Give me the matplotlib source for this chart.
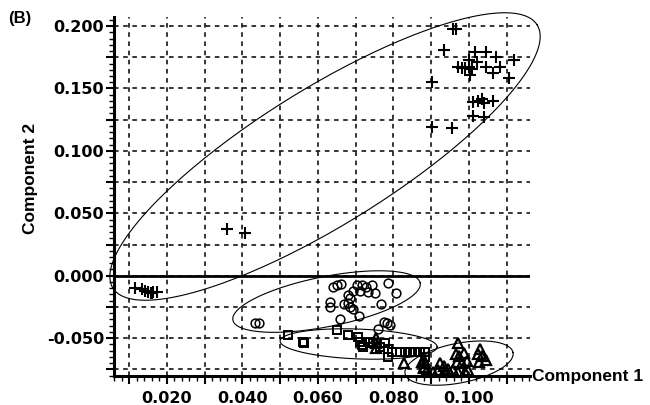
import numpy as np
import matplotlib
matplotlib.use("Agg")
import matplotlib.pyplot as plt
from matplotlib.ticker import MultipleLocator, FuncFormatter

# ---- data (Component 1, Component 2) ----
plus_x = [0.0958, 0.0966, 0.0934, 0.1015, 0.1046, 0.1072, 0.1120, 0.1001, 0.1021,
          0.0972, 0.0981, 0.0990, 0.1001, 0.1008, 0.1046, 0.1083, 0.1065, 0.1003,
          0.1107, 0.1012, 0.1025, 0.1034, 0.1039, 0.1063, 0.1012, 0.1039, 0.0902,
          0.0902, 0.0955, 0.0359, 0.0407,
          0.0116, 0.0134, 0.0142, 0.0151, 0.0157, 0.0164, 0.0173, 0.0160]
plus_y = [0.1974, 0.1974, 0.1809, 0.1795, 0.1795, 0.1750, 0.1728, 0.1728, 0.1715,
          0.1670, 0.1662, 0.1662, 0.1675, 0.1654, 0.1675, 0.1670, 0.1627, 0.1608,
          0.1582, 0.1394, 0.1402, 0.1413, 0.1381, 0.1402, 0.1280, 0.1274, 0.1554,
          0.1194, 0.1181, 0.0372, 0.0340,
          -0.0101, -0.0109, -0.0120, -0.0128, -0.0141, -0.0130, -0.0128, -0.0135]

circ_x = [0.0640, 0.0650, 0.0662, 0.0703, 0.0716, 0.0728, 0.0743, 0.0712, 0.0734,
          0.0752, 0.0787, 0.0807, 0.0694, 0.0681, 0.0685, 0.0631, 0.0631, 0.0668,
          0.0681, 0.0685, 0.0694, 0.0767, 0.0710, 0.0659, 0.0774, 0.0784, 0.0791,
          0.0434, 0.0443, 0.0760]
circ_y = [-0.0093, -0.0075, -0.0067, -0.0075, -0.0075, -0.0093, -0.0075, -0.0120, -0.0128,
          -0.0136, -0.0056, -0.0141, -0.0120, -0.0155, -0.0181, -0.0208, -0.0248, -0.0227,
          -0.0221, -0.0248, -0.0269, -0.0229, -0.0323, -0.0349, -0.0369, -0.0381, -0.0395,
          -0.0381, -0.0377, -0.0429]

sq_x = [0.0522, 0.0560, 0.0563, 0.0650, 0.0681, 0.0707, 0.0712, 0.0716, 0.0738,
        0.0747, 0.0778, 0.0787, 0.0787, 0.0818, 0.0831, 0.0844, 0.0858, 0.0871,
        0.0884, 0.0884, 0.0720, 0.0765, 0.0797]
sq_y = [-0.0475, -0.0535, -0.0540, -0.0435, -0.0475, -0.0489, -0.0529, -0.0555, -0.0529,
        -0.0542, -0.0542, -0.0590, -0.0654, -0.0609, -0.0609, -0.0609, -0.0609, -0.0609,
        -0.0609, -0.0649, -0.0571, -0.0571, -0.0611]

tri_x = [0.0972, 0.0966, 0.0975, 0.0986, 0.1030, 0.1025, 0.1034, 0.1046, 0.1028,
         0.0968, 0.0981, 0.0995, 0.0999, 0.0990, 0.0924, 0.0933, 0.0880, 0.0889,
         0.0906, 0.0919, 0.0933, 0.0946, 0.0959, 0.0972, 0.0827, 0.0875, 0.0884,
         0.0754, 0.0754, 0.0754, 0.0880, 0.0880]
tri_y = [-0.0542, -0.0627, -0.0643, -0.0622, -0.0590, -0.0627, -0.0643, -0.0675, -0.0689,
         -0.0689, -0.0697, -0.0681, -0.0756, -0.0769, -0.0702, -0.0724, -0.0742, -0.0756,
         -0.0769, -0.0756, -0.0769, -0.0750, -0.0756, -0.0769, -0.0697, -0.0689, -0.0702,
         -0.0502, -0.0542, -0.0582, -0.0675, -0.0729]

# ellipses: centre, major semi-axis vector (data units), minor/major ratio (display)
ell_centers = [(0.0619, 0.0955), (0.0623, -0.0207), (0.0708, -0.0547), (0.0974, -0.0700)]
ell_tips = [(0.0562, 0.1054), (0.0248, 0.0149), (0.0208, -0.0024), (0.0143, 0.0085)]
ell_ratios = [0.273, 0.262, 0.19, 0.36]

xlim = (0.006, 0.1162)
ylim = (-0.0801, 0.2075)
x_labels_every = 0.02
y_labels_every = 0.05

FONT = ['Liberation Sans', 'DejaVu Sans']
plt.rcParams['font.family'] = FONT

fig = plt.figure(figsize=(6.5, 4.05), dpi=100)
ax = fig.add_axes([114 / 650, 1 - 375.7 / 405, (530 - 114) / 650, (375.7 - 16.7) / 405])
ax.set_xlim(*xlim)
ax.set_ylim(*ylim)

for s in ('top', 'right'):
    ax.spines[s].set_visible(False)
for s in ('left', 'bottom'):
    ax.spines[s].set_linewidth(2.2)

ax.xaxis.set_major_locator(MultipleLocator(0.01))
ax.xaxis.set_minor_locator(MultipleLocator(0.002))
ax.yaxis.set_major_locator(MultipleLocator(0.025))
ax.yaxis.set_minor_locator(MultipleLocator(0.005))


def fmt_every(step):
    def f(v, pos):
        k = v / step
        if abs(k - round(k)) < 1e-6:
            return f"{v:.3f}".replace("-0.000", "0.000")
        return ""
    return FuncFormatter(f)


ax.xaxis.set_major_formatter(fmt_every(x_labels_every))
ax.yaxis.set_major_formatter(fmt_every(y_labels_every))
ax.tick_params(axis='both', which='major', direction='out', length=6, width=1.5,
               labelsize=11.5, color='black')
ax.tick_params(axis='both', which='minor', direction='out', length=3.5, width=1.0)
ax.tick_params(axis='x', which='major', pad=5)
ax.tick_params(axis='y', which='major', pad=1)
for lab in ax.get_xticklabels() + ax.get_yticklabels():
    lab.set_fontweight('bold')
    lab.set_family(['DejaVu Sans'])

ax.grid(True, which='major', color='black', linestyle=(0, (3, 3)), linewidth=1.1)
ax.set_axisbelow(True)
ax.axhline(0, color='black', lw=2.0, zorder=2)

ax.plot(plus_x, plus_y, linestyle='none', marker='+', ms=8.5, mew=1.5, color='black', zorder=3)
ax.plot(circ_x, circ_y, linestyle='none', marker='o', ms=6.3, mew=1.1, mfc='none', mec='black', zorder=3)
ax.plot(sq_x, sq_y, linestyle='none', marker='s', ms=5.6, mew=1.4, mfc='none', mec='black', zorder=3)
ax.plot(tri_x, tri_y, linestyle='none', marker='^', ms=7.2, mew=1.6, mfc='none', mec='black', zorder=3)

T = ax.transData
t = np.linspace(0, 2 * np.pi, 300)
for c, tip, r in zip(ell_centers, ell_tips, ell_ratios):
    cd = T.transform(c)
    pd = T.transform((c[0] + tip[0], c[1] + tip[1]))
    A = pd - cd
    B = np.array([-A[1], A[0]]) * r
    pts = cd + np.outer(np.cos(t), A) + np.outer(np.sin(t), B)
    d = T.inverted().transform(pts)
    ax.plot(d[:, 0], d[:, 1], color='black', lw=0.8, clip_on=False, zorder=4)

fig.text(532 / 650, 1 - 376 / 405, 'Component 1', ha='left', va='center',
         fontsize=12.5, fontweight='bold')
fig.text(30 / 650, 1 - 178 / 405, 'Component 2', ha='center', va='center',
         rotation=90, fontsize=12.5, fontweight='bold')
fig.text(8 / 650, 1 - 19 / 405, '(B)', ha='left', va='center', fontsize=12, fontweight='bold')

fig.savefig('out.png', dpi=100)
